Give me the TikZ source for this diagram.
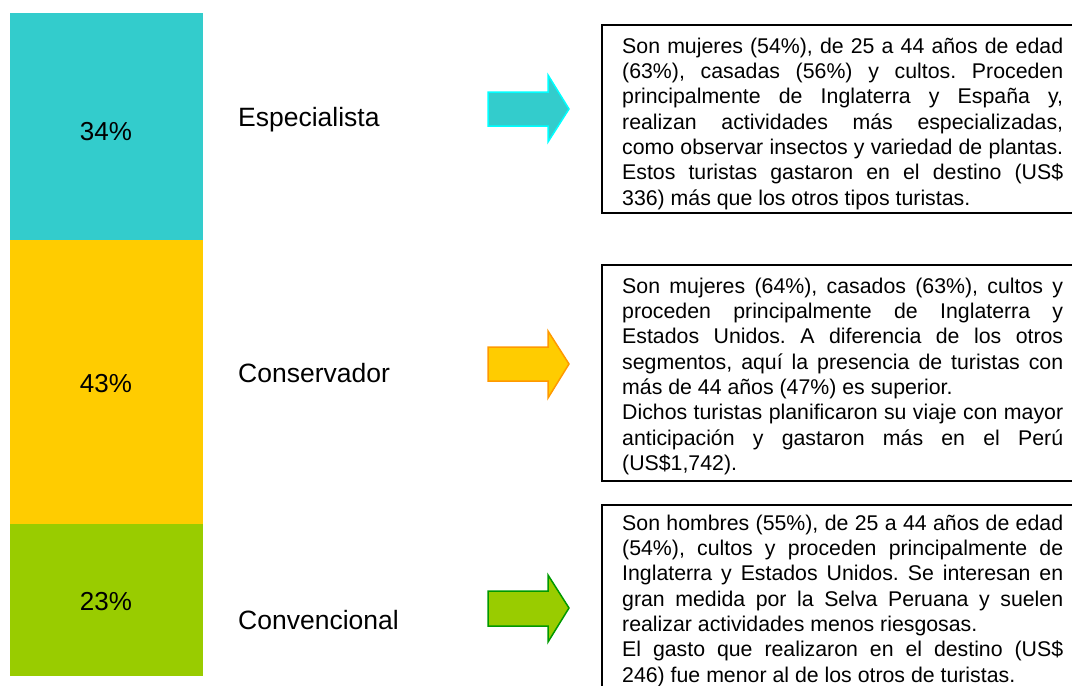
\documentclass[tikz,border=0pt]{standalone}
\usepackage{fontspec}
\setmainfont{Liberation Sans}
\usepackage{xcolor}
\usepackage{tikz}
\definecolor{espfill}{HTML}{33CCCC}
\definecolor{espline}{HTML}{00FFFF}
\definecolor{consfill}{HTML}{FFCC00}
\definecolor{consline}{HTML}{FF9900}
\definecolor{convfill}{HTML}{99CC00}
\definecolor{convline}{HTML}{009900}
\hyphenpenalty=10000
\exhyphenpenalty=10000
\tolerance=10000
\frenchspacing

\begin{document}
\begin{tikzpicture}[x=1pt, y=-1pt,
        pct/.style={font=\fontsize{26}{30}\selectfont},
        seglabel/.style={anchor=west, inner sep=0pt, font=\fontsize{26.5}{30}\selectfont},
        descbox/.style={draw=black, line width=1.8pt},
        desctext/.style={anchor=north west, inner sep=0pt, text width=441pt, align=justify,
            font=\fontsize{21.3}{25.3}\selectfont\frenchspacing},
        blockarrow/.style={line width=1.5pt, line join=miter}]
            \useasboundingbox (0,0) rectangle (1072,686);
            \clip (0,0) rectangle (1072,686);
            \fill[espfill] (10,13) rectangle (203,240);
            \fill[consfill] (10,240) rectangle (203,524);
            \fill[convfill] (10,524) rectangle (203,676);
            \node[pct] (pEsp) at (106,132) {34\%};
            \node[pct] (pCons) at (106,384) {43\%};
            \node[pct] (pConv) at (106,602) {23\%};
            \node[seglabel] (lEsp) at (238,120) {Especialista};
            \node[seglabel] (lCons) at (238,373) {Conservador};
            \node[seglabel] (lConv) at (238,620) {Convencional};
            \draw[blockarrow, draw=espline, fill=espfill] (488,92) -- (548,92) -- (548,75) -- (569,109) -- (548,142) -- (548,126) -- (488,126) -- cycle;
            \draw[blockarrow, draw=consline, fill=consfill] (488,347) -- (548,347) -- (548,331) -- (569,364) -- (548,398) -- (548,381) -- (488,381) -- cycle;
            \draw[blockarrow, draw=convline, fill=convfill] (488,591) -- (548,591) -- (548,575) -- (569,608) -- (548,642) -- (548,626) -- (488,626) -- cycle;
            \draw[descbox] (602,25) rectangle (1090,213);
            \draw[descbox] (602,265) rectangle (1090,481);
            \draw[descbox] (602,505) rectangle (1090,720);
            \node[desctext] (tEsp) at (622,35.3) {\strut Son mujeres (54\%), de 25 a 44 años de edad\linebreak
                (63\%), casadas (56\%) y cultos. Proceden\linebreak
                principalmente de Inglaterra y España y,\linebreak
                realizan actividades más especializadas,\linebreak
                como observar insectos y variedad de plantas.\linebreak
                Estos turistas gastaron en el destino (US\$\linebreak
                336) más que los otros tipos turistas.};
            \node[desctext] (tCons) at (622,275.3) {\strut Son mujeres (64\%), casados (63\%), cultos y\linebreak
                proceden principalmente de Inglaterra y\linebreak
                Estados Unidos. A diferencia de los otros\linebreak
                segmentos, aquí la presencia de turistas con\linebreak
                más de 44 años (47\%) es superior.\\
                Dichos turistas planificaron su viaje con mayor\linebreak
                anticipación y gastaron más en el Perú\linebreak
                (US\$1,742).};
            \node[desctext] (tConv) at (622,512.3) {\strut Son hombres (55\%), de 25 a 44 años de edad\linebreak
                (54\%), cultos y proceden principalmente de\linebreak
                Inglaterra y Estados Unidos. Se interesan en\linebreak
                gran medida por la Selva Peruana y suelen\linebreak
                realizar actividades menos riesgosas.\\
                El gasto que realizaron en el destino (US\$\linebreak
                246) fue menor al de los otros de turistas.};
        \end{tikzpicture}
\end{document}
